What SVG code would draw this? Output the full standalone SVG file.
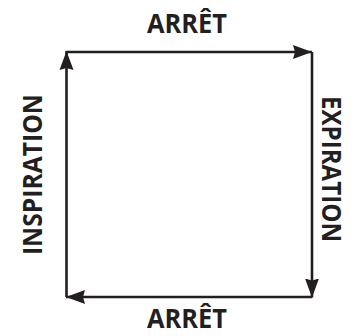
<svg xmlns="http://www.w3.org/2000/svg" width="363" height="336" viewBox="0 0 363 336">
<style>
.lbl{font-family:"Open Sans","Liberation Sans",sans-serif;font-weight:bold;font-size:27px;fill:#231f20;text-anchor:middle}
.edge{fill:none;stroke:#231f20;stroke-width:2.6}
</style>
<defs>
<marker id="ah" markerUnits="userSpaceOnUse" markerWidth="20" markerHeight="15" viewBox="0 0 20 15" refX="19" refY="7.5" orient="auto">
<polygon points="0,0.5 19,7.5 0,14.5 2,7.5" fill="#231f20"/>
</marker>
</defs>
<rect width="363" height="336" fill="#ffffff"/>
<g id="connectors">
<line class="edge" x1="66.5" y1="52" x2="312" y2="52" marker-end="url(#ah)"/>
<line class="edge" x1="312" y1="52" x2="312" y2="297.5" marker-end="url(#ah)"/>
<line class="edge" x1="312" y1="297" x2="66" y2="297" marker-end="url(#ah)"/>
<line class="edge" x1="66.5" y1="297" x2="66.5" y2="51" marker-end="url(#ah)"/>
</g>
<g id="arret-top"><text class="lbl" x="187" y="33" textLength="80" lengthAdjust="spacingAndGlyphs">ARRÊT</text></g>
<g id="arret-bottom"><text class="lbl" x="187" y="328" textLength="80" lengthAdjust="spacingAndGlyphs">ARRÊT</text></g>
<g id="inspiration"><text class="lbl" transform="translate(42,174.6) rotate(-90)" x="0" y="0" textLength="161" lengthAdjust="spacingAndGlyphs">INSPIRATION</text></g>
<g id="expiration"><text class="lbl" transform="translate(322,169) rotate(90)" x="0" y="0" textLength="146" lengthAdjust="spacingAndGlyphs">EXPIRATION</text></g>
</svg>
